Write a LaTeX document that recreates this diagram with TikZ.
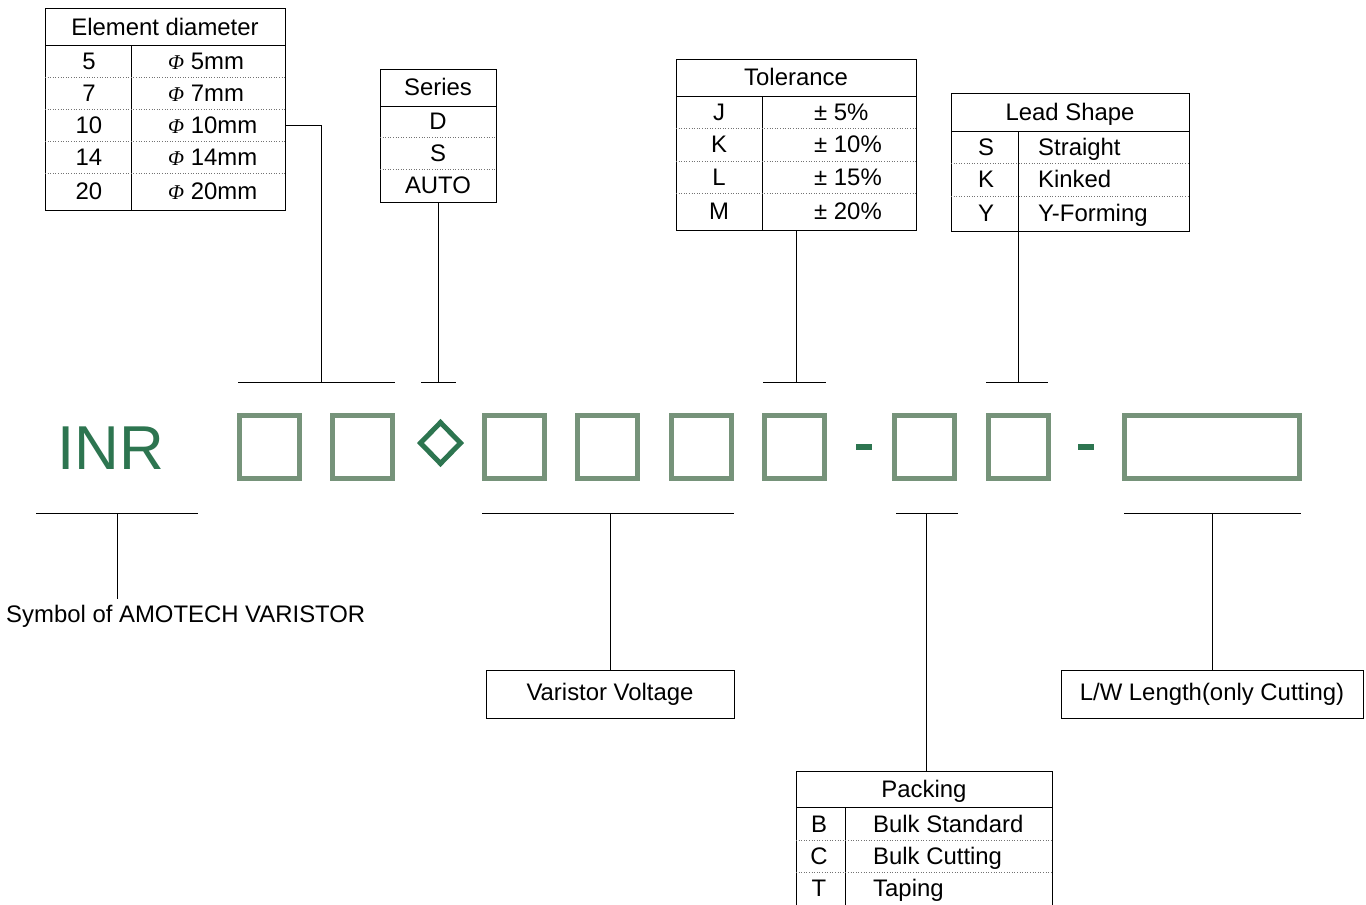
\documentclass[tikz,border=0pt]{standalone}
\usepackage{fontspec}
\setmainfont{Liberation Sans}
\newfontfamily\phifont{Liberation Serif}
\definecolor{slotgreen}{RGB}{118,147,122}
\definecolor{codegreen}{RGB}{45,117,80}
\begin{document}
\begin{tikzpicture}[x=1pt, y=-1pt,
        every node/.style={font=\fontsize{23.9pt}{28pt}\selectfont},
        txt/.style={inner sep=0pt, anchor=base},
        tbl/.style={draw, line width=1pt, inner sep=0pt},
        rowline/.style={dotted, line width=0.6pt, black!55},
        tick/.style={line width=0.9pt},
        slot/.style={draw=slotgreen, line width=5.3pt}]
        \useasboundingbox (0,0) rectangle (1366,905);
        \clip (0,0) rectangle (1366,905);
        \fill[white] (0,0) rectangle (1366,905);

        \node[tbl, minimum width=240pt, minimum height=202pt] (dia) at (165,109) {};
        \draw[tbl] (45,45) -- (285,45);
        \draw[tbl] (131,45) -- (131,210);
        \foreach \y in {77, 109, 141, 173} {
            \draw[rowline] (45,\y) -- (285,\y);
        }
        \node[txt] at (165,35.6) {Element diameter};
        \foreach \k/\y in {5/61, 7/93, 10/125, 14/157, 20/191} {
            \node[txt] (dia\k) at (89,\y+8.6) {\k};
            \node[txt, anchor=base west] at (168,\y+8.6) {{\phifont\itshape\fontsize{21pt}{24pt}\selectfont Φ} \k mm};
        }

        \node[tbl, minimum width=116pt, minimum height=133pt] (ser) at (438,135.5) {};
        \draw[tbl] (380,106) -- (496,106);
        \foreach \y in {137, 169} {
            \draw[rowline] (380,\y) -- (496,\y);
        }
        \node[txt] at (438,95.6) {Series};
        \foreach \s/\y in {D/121, S/153, AUTO/185} {
            \node[txt] at (438,\y+8.6) {\s};
        }

        \node[tbl, minimum width=240pt, minimum height=171pt] (tol) at (796,144.5) {};
        \draw[tbl] (676,96) -- (916,96);
        \draw[tbl] (762,96) -- (762,230);
        \foreach \y in {128, 161, 193} {
            \draw[rowline] (676,\y) -- (916,\y);
        }
        \node[txt] at (796,85.6) {Tolerance};
        \foreach \s/\v/\y in {J/5/112, K/10/144, L/15/177, M/20/211} {
            \node[txt] at (719,\y+8.6) {\s};
            \node[txt, anchor=base west] at (814,\y+8.6) {± \v\%};
        }

        \node[tbl, minimum width=238pt, minimum height=138pt] (lead) at (1070,162) {};
        \draw[tbl] (951,131) -- (1189,131);
        \draw[tbl] (1018,131) -- (1018,231);
        \foreach \y in {163, 196} {
            \draw[rowline] (951,\y) -- (1189,\y);
        }
        \node[txt] at (1070,120.6) {Lead Shape};
        \foreach \s/\v/\y in {S/Straight/147, K/Kinked/179, Y/Y-Forming/213} {
            \node[txt] at (986,\y+8.6) {\s};
            \node[txt, anchor=base west] at (1038,\y+8.6) {\v};
        }

        \node[tbl, minimum width=256pt, minimum height=160pt] (pack) at (924,851) {};
        \draw[tbl] (796,807) -- (1052,807);
        \draw[tbl] (845,807) -- (845,931);
        \foreach \y in {840, 872} {
            \draw[rowline] (796,\y) -- (1052,\y);
        }
        \node[txt] at (924,797.6) {Packing};
        \foreach \s/\v/\y in {B/Bulk Standard/824, C/Bulk Cutting/856, T/Taping/888} {
            \node[txt] at (819,\y+8.6) {\s};
            \node[txt, anchor=base west] at (873,\y+8.6) {\v};
        }

        \node[font=\fontsize{62pt}{64pt}\selectfont, text=codegreen, inner sep=0pt, anchor=base west] (inr) at (57,469) {INR};
        \foreach \x in {237, 330, 482, 575, 669, 762, 892, 986} {
            \draw[slot] (\x+2.65,415.65) rectangle (\x+62.35,478.35);
        }
        \draw[slot] (1124.65,415.65) rectangle (1299.35,478.35);
        \draw[codegreen, line width=5pt, miter limit=4] (440.5,422.5) -- (460.5,443) -- (440.5,463.5) -- (420.5,443) -- cycle;
        \fill[codegreen] (856,444) rectangle (872,450);
        \fill[codegreen] (1078,444) rectangle (1094,450);

        \foreach \a/\b in {238/395, 421/456, 763/826, 986/1048} {
            \draw[tick] (\a,382) -- (\b,382);
        }
        \foreach \a/\b in {36/198, 482/734, 896/958, 1124/1301} {
            \draw[tick] (\a,513) -- (\b,513);
        }
        \coordinate (bdia) at (321,382);
        \coordinate (bser) at (438,382);
        \coordinate (btol) at (796,382);
        \coordinate (blead) at (1018,382);
        \coordinate (binr) at (117,513);
        \coordinate (bvv) at (610,513);
        \coordinate (bpack) at (926,513);
        \coordinate (blw) at (1212,513);

        \node[txt, anchor=base west] (sym) at (6,622) {Symbol of AMOTECH VARISTOR};
        \node[tbl, minimum width=248pt, minimum height=48pt] (vv) at (610,694) {Varistor Voltage};
        \node[tbl, minimum width=302pt, minimum height=48pt] (lw) at (1212,694) {L/W Length(only Cutting)};

        \draw[tick] (dia.east |- dia10) -| (bdia);
        \draw[tick] (ser.south) -- (bser);
        \draw[tick] (tol.south) -- (btol);
        \draw[tick] (blead |- lead.south) -- (blead);
        \draw[tick] (binr) -- ([yshift=5pt]binr |- sym.north);
        \draw[tick] (bvv) -- (vv.north);
        \draw[tick] (bpack) -- (bpack |- pack.north);
        \draw[tick] (blw) -- (lw.north);
    \end{tikzpicture}
\end{document}
